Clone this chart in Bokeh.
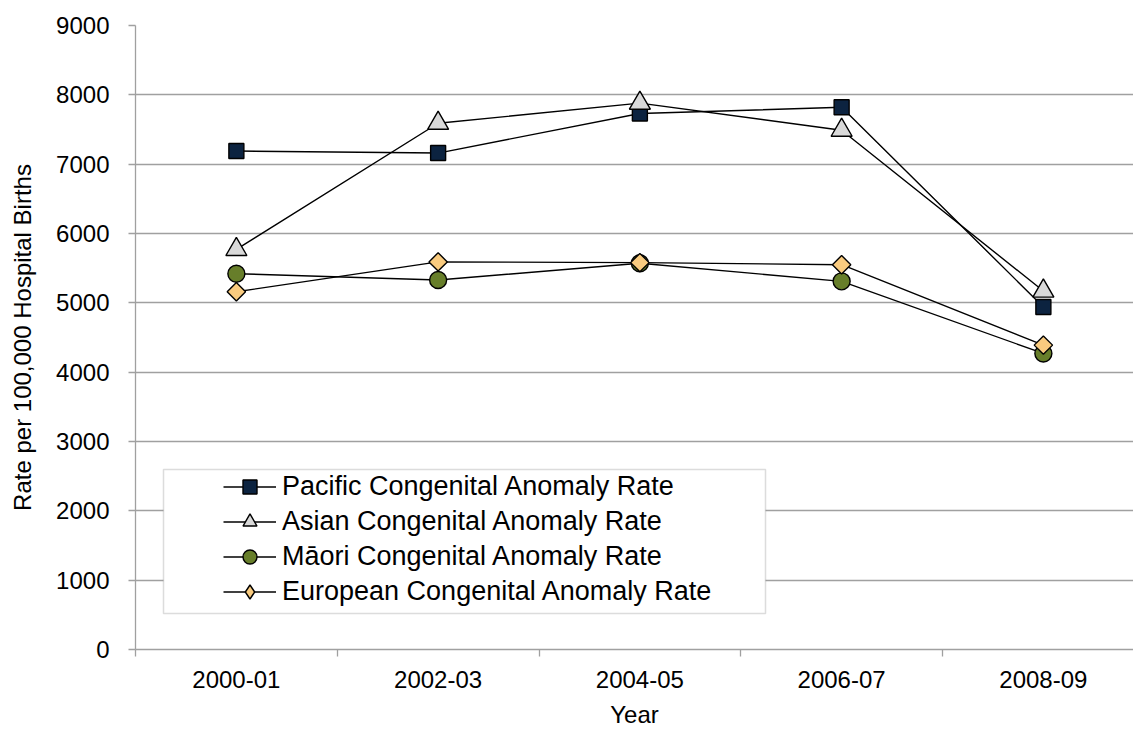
import numpy as np
from bokeh.plotting import figure
from bokeh.models import (FixedTicker, Legend, LegendItem, BoxAnnotation, Range1d,
                          ColumnDataSource)
from bokeh.embed import file_html
from bokeh.resources import INLINE

# ---------------- data ----------------
years = ["2000-01", "2002-03", "2004-05", "2006-07", "2008-09"]
pacific = [7190, 7160, 7730, 7820, 4940]
asian = [5770, 7590, 7880, 7490, 5170]
maori = [5420, 5330, 5570, 5310, 4270]
european = [5160, 5590, 5580, 5550, 4390]
series_names = ["Pacific Congenital Anomaly Rate", "Asian Congenital Anomaly Rate",
                "Māori Congenital Anomaly Rate", "European Congenital Anomaly Rate"]
y_ticks = list(range(0, 9001, 1000))

# ---------------- layout constants ----------------
W, H = 1133, 740
FL, FT, FB = 135, 25, 649          # frame left / top / bottom (px)
CAT = 201.75                        # px per category
FONT = "Liberation Sans"
GRID = "#a0a0a0"

xs = np.arange(len(years))
x_start = -0.5
x_end = x_start + (W - FL) / CAT

p = figure(width=W, height=H, output_backend="svg", toolbar_location=None,
           x_range=Range1d(x_start, x_end), y_range=Range1d(0, 9000),
           min_border_left=FL, min_border_right=0, min_border_top=FT,
           min_border_bottom=H - FB)
p.outline_line_color = None
p.background_fill_color = "white"
p.border_fill_color = "white"

# grid
p.xgrid.grid_line_color = None
p.ygrid.grid_line_color = GRID
p.ygrid.grid_line_width = 1.3
p.yaxis.ticker = FixedTicker(ticks=y_ticks)

# y axis
ya = p.yaxis[0]
ya.axis_line_color = GRID
ya.axis_line_width = 1.3
ya.major_tick_line_color = GRID
ya.major_tick_line_width = 1.3
ya.major_tick_out = 7
ya.major_tick_in = 0
ya.minor_tick_line_color = None
ya.major_label_standoff = 19
ya.major_label_text_font = FONT
ya.major_label_text_font_size = "24px"
ya.major_label_text_color = "black"
ya.axis_label = "Rate per 100,000 Hospital Births"
ya.axis_label_text_font = FONT
ya.axis_label_text_font_size = "24px"
ya.axis_label_text_font_style = "normal"
ya.axis_label_text_color = "black"
ya.axis_label_standoff = 17

# x axis
xa = p.xaxis[0]
xa.ticker = FixedTicker(ticks=list(xs), minor_ticks=[i - 0.5 for i in range(len(years) + 1)])
xa.major_label_overrides = {int(i): y for i, y in zip(xs, years)}
xa.axis_line_color = GRID
xa.axis_line_width = 1.3
xa.major_tick_line_color = None
xa.major_tick_out = 7
xa.major_tick_in = 0
xa.minor_tick_line_color = GRID
xa.minor_tick_line_width = 1.3
xa.minor_tick_out = 7
xa.minor_tick_in = 0
xa.major_label_standoff = 14
xa.major_label_text_font = FONT
xa.major_label_text_font_size = "24px"
xa.major_label_text_color = "black"
xa.axis_label = "Year"
xa.axis_label_text_font = FONT
xa.axis_label_text_font_size = "24px"
xa.axis_label_text_font_style = "normal"
xa.axis_label_text_color = "black"
xa.axis_label_standoff = 10

def px_to_x(px):
    return x_start + (px - FL) / CAT

def py_to_y(py):
    return (FB - py) / (FB - FT) * 9000

# series
styles = [
    (pacific, "square", "#0c2340", 15, 0.0, "square"),
    (asian, "triangle", "#d9d9d9", 21, 0.0, "triangle"),
    (maori, "circle", "#677e2a", 17, 0.0, "circle"),
    (european, "square", "#f9cb7f", 13, np.pi / 4, "diamond"),
]
items = []
for (vals, marker, color, size, ang, leg_marker), name in zip(styles, series_names):
    ln = p.line(xs, vals, line_color="black", line_width=1.4)
    sc = p.scatter(xs, vals, marker=marker, size=size, angle=ang,
                   fill_color=color, line_color="black", line_width=1.4)
    if leg_marker != marker:
        # key-only glyph (not drawn in the plot area) so the key shows a diamond
        sc = p.scatter(x="x", y="y",
                       source=ColumnDataSource(dict(x=[np.nan], y=[np.nan])),
                       marker=leg_marker, size=size, fill_color=color,
                       line_color="black", line_width=1.4)
    items.append(LegendItem(label=name, renderers=[ln, sc]))

# legend frame (pixel layout -> data units)
box = BoxAnnotation(left=px_to_x(163), right=px_to_x(765),
                    bottom=py_to_y(613), top=py_to_y(469),
                    fill_color="white", fill_alpha=1.0,
                    line_color="#8c8c8c", line_width=1.5)
p.add_layout(box)

legend = Legend(items=items, location=(88, 40), orientation="vertical",
                border_line_color=None, background_fill_alpha=0.0,
                padding=0, margin=0, spacing=0,
                glyph_width=53, glyph_height=35, label_height=34,
                label_standoff=6,
                label_text_font=FONT, label_text_font_size="27px",
                label_text_color="black")
p.add_layout(legend, "center")

open("out.html", "w").write(file_html(p, INLINE))
